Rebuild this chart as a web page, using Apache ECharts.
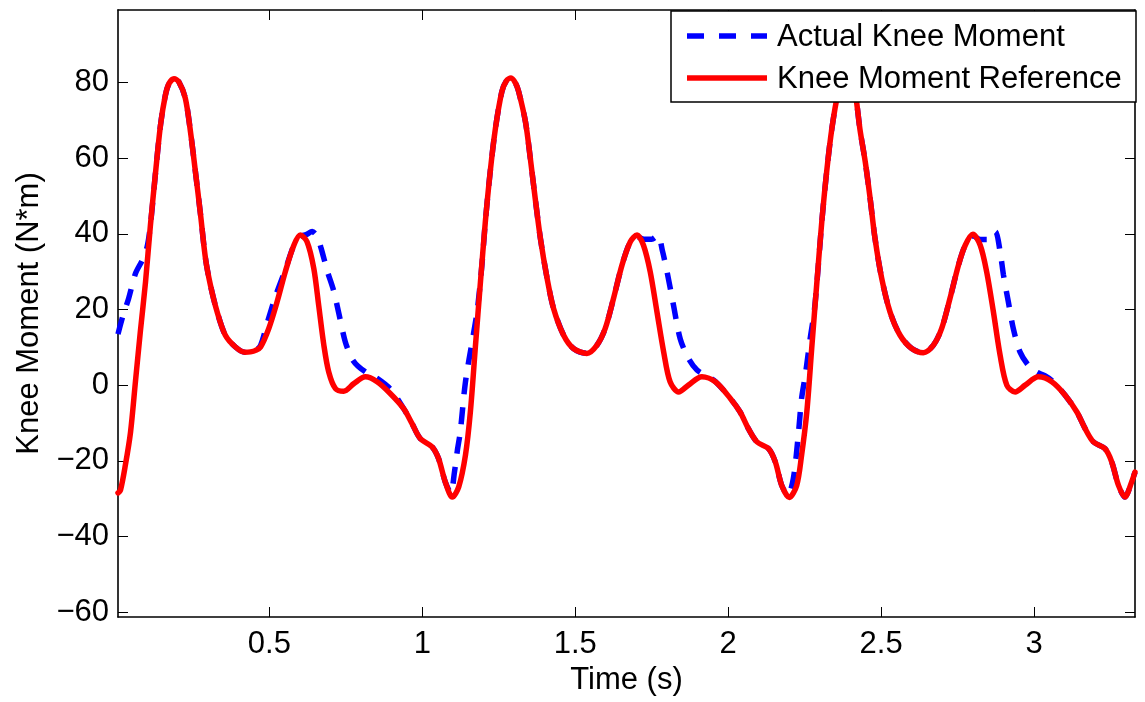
<!DOCTYPE html>
<html><head><meta charset="utf-8">
<script src="https://cdn.jsdelivr.net/npm/echarts@6/dist/echarts.min.js"></script>
<style>html,body{margin:0;padding:0;background:#fff}#c{width:1145px;height:702px}</style>
</head><body><div id="c"></div>
<script>
// Knee Moment Reference (red, solid)
const timeRef = [0.005,0.013,0.029,0.046,0.062,0.078,0.095,0.111,0.127,0.144,0.160,0.172,0.188,0.204,0.225,0.242,0.258,0.275,0.291,0.307,0.329,0.356,0.389,0.420,0.438,0.455,0.471,0.498,0.525,0.552,0.580,0.601,0.623,0.645,0.661,0.678,0.694,0.716,0.743,0.776,0.814,0.852,0.895,0.939,0.966,0.993,1.032,1.053,1.075,1.098,1.119,1.141,1.157,1.173,1.190,1.206,1.222,1.239,1.260,1.275,1.290,1.305,1.315,1.337,1.353,1.369,1.386,1.408,1.429,1.462,1.494,1.538,1.571,1.598,1.625,1.653,1.680,1.702,1.723,1.745,1.767,1.789,1.810,1.838,1.870,1.914,1.958,2.007,2.039,2.066,2.094,2.132,2.154,2.175,2.200,2.224,2.240,2.257,2.273,2.290,2.306,2.322,2.339,2.360,2.375,2.390,2.405,2.415,2.431,2.448,2.464,2.480,2.502,2.529,2.562,2.600,2.638,2.671,2.698,2.725,2.753,2.775,2.800,2.824,2.845,2.867,2.889,2.911,2.938,2.971,3.014,3.058,3.101,3.140,3.167,3.194,3.232,3.254,3.276,3.297,3.319,3.330];
const refValues = [-28.5,-27.8,-21.2,-12.4,0.9,14.1,27.3,42.3,55.6,68.8,76.7,79.8,81.0,80.2,75.9,67.0,56.5,45.0,33.5,26.5,19.4,13.2,10.1,8.7,8.8,9.2,10.1,15.0,22.0,30.0,37.0,39.7,37.9,30.9,21.2,10.6,3.5,-0.9,-1.6,0.4,2.2,0.9,-2.2,-6.2,-10.1,-14.1,-16.3,-19.4,-25.6,-29.6,-26.9,-18.5,-7.1,9.7,27.3,43.2,56.5,67.9,77.6,80.5,81.2,79.8,77.6,69.7,60.0,49.4,38.8,28.2,20.3,13.2,9.7,8.4,10.6,15.0,22.9,31.8,37.9,39.7,37.0,30.0,19.4,8.8,0.9,-1.8,0.0,2.2,0.9,-3.5,-7.1,-11.5,-15.0,-16.8,-20.3,-26.5,-29.7,-26.5,-18.5,-7.1,9.7,27.3,43.2,56.5,67.9,77.6,80.5,81.2,79.8,77.6,67.5,59.1,49.4,38.8,28.2,19.4,13.2,9.7,8.6,10.6,15.0,22.9,31.8,37.0,39.9,37.0,30.0,19.4,7.9,0.0,-1.8,0.0,2.2,0.9,-2.6,-7.1,-11.5,-15.0,-16.8,-20.3,-26.5,-29.6,-25.6,-23.0];

// Actual Knee Moment (blue, dashed)
const timeAct = [0.005,0.020,0.040,0.062,0.084,0.100,0.111,0.127,0.144,0.160,0.172,0.188,0.204,0.225,0.242,0.258,0.275,0.291,0.307,0.329,0.356,0.389,0.420,0.438,0.455,0.471,0.495,0.520,0.552,0.580,0.601,0.620,0.640,0.655,0.668,0.690,0.710,0.727,0.748,0.770,0.790,0.820,0.852,0.895,0.939,0.966,0.993,1.032,1.053,1.075,1.093,1.105,1.115,1.124,1.141,1.165,1.180,1.195,1.206,1.222,1.239,1.260,1.275,1.290,1.305,1.315,1.337,1.353,1.369,1.386,1.408,1.429,1.462,1.494,1.538,1.571,1.598,1.625,1.653,1.680,1.702,1.725,1.750,1.770,1.785,1.800,1.821,1.843,1.870,1.898,1.930,1.958,2.007,2.039,2.066,2.094,2.132,2.154,2.175,2.195,2.213,2.230,2.240,2.252,2.268,2.282,2.295,2.306,2.322,2.339,2.360,2.375,2.390,2.405,2.415,2.431,2.448,2.464,2.480,2.502,2.529,2.562,2.600,2.638,2.671,2.698,2.725,2.753,2.775,2.800,2.825,2.850,2.873,2.889,2.900,2.916,2.932,2.954,2.981,3.008,3.035,3.063,3.101,3.140,3.167,3.194,3.232,3.254,3.276,3.297,3.319,3.330];
const actValues = [13.5,18.0,23.0,29.5,33.0,36.5,42.3,55.6,68.8,76.7,79.8,81.2,80.2,75.9,67.0,56.5,45.0,33.5,26.5,19.4,13.2,10.1,8.7,8.8,9.2,10.5,17.0,23.5,30.5,37.0,39.3,39.8,40.6,39.5,36.5,30.0,25.0,19.0,11.5,7.0,5.0,3.2,1.8,-1.0,-6.2,-10.1,-14.1,-16.3,-19.4,-25.6,-28.5,-23.0,-17.0,-12.4,0.9,12.5,20.0,32.0,43.2,56.5,67.9,77.6,80.5,81.2,79.8,77.6,69.7,60.0,49.4,38.8,28.2,20.3,13.2,9.7,8.4,10.6,15.0,22.9,31.8,37.9,39.2,38.6,38.6,39.6,35.5,30.0,21.2,12.3,7.1,4.0,2.4,1.0,-3.5,-7.1,-11.5,-15.0,-16.8,-20.3,-26.5,-29.0,-24.7,-12.4,-3.5,2.6,12.3,20.0,32.0,43.2,56.5,67.9,77.6,80.5,81.2,79.8,77.6,67.5,59.1,49.4,38.8,28.2,19.4,13.2,9.7,8.6,10.6,15.0,22.9,31.8,37.0,39.5,38.5,38.5,40.6,35.3,29.1,22.0,15.0,8.8,5.3,3.5,2.5,0.9,-2.6,-7.1,-11.5,-15.0,-16.8,-20.3,-26.5,-29.6,-25.6,-23.0];

const xTicks = [0.5, 1, 1.5, 2, 2.5, 3];
const yTicks = [-60, -40, -20, 0, 20, 40, 60, 80];
const seriesNames = ['Actual Knee Moment', 'Knee Moment Reference'];
const axisTitles = { x: 'Time (s)', y: 'Knee Moment (N*m)' };

const FONT = 'Liberation Sans, Arial, Helvetica, sans-serif';
const FS = 31;
const X_MIN = 0.005, X_MAX = 3.33, Y_MIN = -61.3, Y_MAX = 99.2;

const chart = echarts.init(document.getElementById('c'), null, { renderer: 'canvas' });

function axisCommon(extra) {
  return Object.assign({
    type: 'value',
    splitLine: { show: false },
    axisLine: { show: true, onZero: false, lineStyle: { color: '#000', width: 1.6 } },
    axisTick: { show: true, inside: true, length: 10, lineStyle: { color: '#000', width: 1 } }
  }, extra);
}

const minus = v => String(v).replace('-', '\u2212');

chart.setOption({
  animation: false,
  backgroundColor: '#fff',
  textStyle: { fontFamily: FONT },
  grid: { left: 118, right: 10, top: 10, bottom: 85, containLabel: false },
  xAxis: [
    axisCommon({
      position: 'bottom', min: X_MIN, max: X_MAX,
      name: axisTitles.x, nameLocation: 'middle', nameGap: 46,
      nameTextStyle: { color: '#000', fontSize: FS, fontFamily: FONT },
      axisTick: { show: true, inside: true, length: 10, customValues: xTicks, lineStyle: { color: '#000', width: 1 } },
      axisLabel: { customValues: xTicks, color: '#000', fontSize: FS, fontFamily: FONT, margin: 12 }
    }),
    axisCommon({
      position: 'top', min: X_MIN, max: X_MAX,
      axisTick: { show: true, inside: true, length: 10, customValues: xTicks, lineStyle: { color: '#000', width: 1 } },
      axisLabel: { show: false }
    })
  ],
  yAxis: [
    axisCommon({
      position: 'left', min: Y_MIN, max: Y_MAX,
      name: axisTitles.y, nameLocation: 'middle', nameGap: 73, nameRotate: 90,
      nameTextStyle: { color: '#000', fontSize: FS, fontFamily: FONT },
      axisTick: { show: true, inside: true, length: 10, customValues: yTicks, lineStyle: { color: '#000', width: 1 } },
      axisLabel: { customValues: yTicks, color: '#000', fontSize: FS, fontFamily: FONT, margin: 9, formatter: minus }
    }),
    axisCommon({
      position: 'right', min: Y_MIN, max: Y_MAX,
      axisTick: { show: true, inside: true, length: 10, customValues: yTicks, lineStyle: { color: '#000', width: 1 } },
      axisLabel: { show: false }
    })
  ],
  series: [
    {
      name: seriesNames[0], type: 'line', xAxisIndex: 0, yAxisIndex: 0,
      showSymbol: false, symbol: 'none', clip: true, z: 2,
      smooth: 0.3,
      lineStyle: { color: '#0000ff', width: 5.5, type: [17, 13], cap: 'butt' },
      data: timeAct.map((t, i) => [t, actValues[i]])
    },
    {
      name: seriesNames[1], type: 'line', xAxisIndex: 0, yAxisIndex: 0,
      showSymbol: false, symbol: 'none', clip: true, z: 3,
      smooth: 0.3,
      lineStyle: { color: '#ff0000', width: 5.5, cap: 'round', join: 'round' },
      data: timeRef.map((t, i) => [t, refValues[i]])
    }
  ],
  graphic: [
    { type: 'rect', z: 100, shape: { x: 671, y: 11, width: 465, height: 91 },
      style: { fill: '#fff', stroke: '#000', lineWidth: 1.5 } },
    { type: 'line', z: 101, shape: { x1: 687, y1: 36, x2: 767, y2: 36 },
      style: { stroke: '#0000ff', lineWidth: 5.5, lineDash: [17, 15] } },
    { type: 'line', z: 101, shape: { x1: 687, y1: 78, x2: 767, y2: 78 },
      style: { stroke: '#ff0000', lineWidth: 5.5 } },
    { type: 'text', z: 101, x: 777, y: 37.5,
      style: { text: seriesNames[0], fill: '#000', font: FS + 'px ' + FONT, verticalAlign: 'middle', align: 'left' } },
    { type: 'text', z: 101, x: 777, y: 79,
      style: { text: seriesNames[1], fill: '#000', font: FS + 'px ' + FONT, verticalAlign: 'middle', align: 'left' } }
  ]
});
</script>
</body></html>
